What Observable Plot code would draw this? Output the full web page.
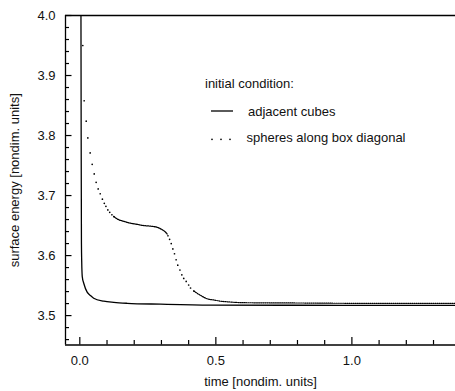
<!DOCTYPE html>
<html>
<head>
<meta charset="utf-8">
<script src="https://cdn.jsdelivr.net/npm/d3@7"></script>
<script src="https://cdn.jsdelivr.net/npm/@observablehq/plot@0.6"></script>
<style>
  html, body { margin: 0; padding: 0; background: #fff; }
  #wrap { position: relative; width: 455px; height: 391px; }
  #legend { position: absolute; left: 0; top: 0; pointer-events: none; }
  text { font-family: "Liberation Sans", Arial, sans-serif; }
</style>
</head>
<body>
<div id="wrap"></div>
<script>
// ---- data ----
// adjacent cubes (solid line)
const cubesT = [0.004, 0.005, 0.006, 0.007, 0.009, 0.015, 0.027, 0.040, 0.051, 0.088, 0.125, 0.174, 0.297, 0.480, 0.800, 1.100, 1.380];
const cubesE = [4.060, 3.800, 3.620, 3.590, 3.565, 3.553, 3.539, 3.533, 3.529, 3.524, 3.522, 3.5205, 3.519, 3.5175, 3.5172, 3.5171, 3.5171];

// spheres along box diagonal: individually visible dots
const sphereDotT = [0.011, 0.016, 0.0235, 0.0295, 0.038, 0.0455, 0.053, 0.060, 0.0675, 0.075, 0.083, 0.090, 0.096, 0.103, 0.110, 0.118, 0.125,
                    0.324, 0.330, 0.336, 0.342, 0.348, 0.354, 0.360, 0.368, 0.375, 0.382, 0.391, 0.400, 0.407, 0.419];
const sphereDotE = [3.950, 3.858, 3.824, 3.796, 3.771, 3.752, 3.736, 3.722, 3.711, 3.703, 3.694, 3.687, 3.682, 3.676, 3.672, 3.668, 3.665,
                    3.633, 3.627, 3.620, 3.611, 3.603, 3.593, 3.584, 3.576, 3.568, 3.562, 3.557, 3.551, 3.546, 3.541];
// spheres: densely dotted stretches
const sphereShoulderT = [0.125, 0.1375, 0.162, 0.186, 0.211, 0.235, 0.260, 0.285, 0.303, 0.315, 0.321];
const sphereShoulderE = [3.665, 3.661, 3.657, 3.654, 3.652, 3.650, 3.649, 3.647, 3.643, 3.639, 3.636];
const sphereTailT = [0.419, 0.432, 0.450, 0.468, 0.493, 0.517, 0.542, 0.600, 0.800, 1.000, 1.380];
const sphereTailE = [3.541, 3.537, 3.532, 3.528, 3.526, 3.524, 3.523, 3.5215, 3.521, 3.5205, 3.5205];

// ticks
const xMajorTicks = [0.0, 0.5, 1.0];
const xMinorTicks = [0.1, 0.2, 0.3, 0.4, 0.6, 0.7, 0.8, 0.9, 1.1, 1.2, 1.3];
const yMajorTicks = [3.5, 3.6, 3.7, 3.8, 3.9, 4.0];
const yMinorTicks = [3.46, 3.48, 3.52, 3.54, 3.56, 3.58, 3.62, 3.64, 3.66, 3.68, 3.72, 3.74, 3.76, 3.78, 3.82, 3.84, 3.86, 3.88, 3.92, 3.94, 3.96, 3.98];

const xDomain = [-0.0526, 1.3808];
const yDomain = [3.451, 4.0];

const legendTitle = "initial condition:";
const seriesNames = ["adjacent cubes", "spheres along box diagonal"];
const xLabel = "time [nondim. units]";
const yLabel = "surface energy [nondim. units]";

// ---- build tables ----
const zip = (T, E) => T.map((t, i) => ({t, e: E[i]}));
const cubes = zip(cubesT, cubesE);
const sphereDots = zip(sphereDotT, sphereDotE);
const sphereShoulder = zip(sphereShoulderT, sphereShoulderE);
const sphereTail = zip(sphereTailT, sphereTailE);

const W = 455, H = 391, mL = 65, mR = 0, mT = 15, mB = 46.5;
const frameW = W - mL - mR, frameH = H - mT - mB;
// convert a tick length in pixels into data units along each axis
const pxToX = px => px * (xDomain[1] - xDomain[0]) / frameW;
const pxToY = px => px * (yDomain[1] - yDomain[0]) / frameH;
const ink = "#000";
// inward tick marks as short rules starting at the frame edge
const xTick = (ticks, len) => Plot.ruleX(ticks.map(v => ({v})), {x: "v", y1: yDomain[0], y2: yDomain[0] + pxToY(len), stroke: ink, strokeWidth: 1.2});
const yTick = (ticks, len) => Plot.ruleY(ticks.map(v => ({v})), {y: "v", x1: xDomain[0], x2: xDomain[0] + pxToX(len), stroke: ink, strokeWidth: 1.2});

const chart = Plot.plot({
  width: W,
  height: H,
  marginLeft: mL,
  marginRight: mR,
  marginTop: mT,
  marginBottom: mB,
  x: {domain: xDomain},
  y: {domain: yDomain},
  style: {fontFamily: "'Liberation Sans', Arial, sans-serif", fontSize: "13px", color: "#111", background: "#fff"},
  marks: [
    // tick labels and axis titles
    Plot.axisY(yMajorTicks, {tickSize: 0, tickPadding: 10, tickFormat: d3.format(".1f"), label: yLabel, labelAnchor: "center", labelOffset: 56, labelArrow: "none"}),
    Plot.axisX(xMajorTicks, {tickSize: 0, tickPadding: 11, tickFormat: d3.format(".1f"), label: xLabel, labelAnchor: "center", labelOffset: 41, labelArrow: "none"}),
    // inward ticks
    yTick(yMajorTicks, 6.5),
    yTick(yMinorTicks, 4),
    xTick(xMajorTicks, 7.5),
    xTick(xMinorTicks, 4.5),
    // frame (left, top, bottom)
    Plot.ruleX([xDomain[0]], {stroke: ink, strokeWidth: 1.3}),
    Plot.ruleY([yDomain[0], yDomain[1]], {stroke: ink, strokeWidth: 1.3}),
    // adjacent cubes
    Plot.line(cubes, {x: "t", y: "e", stroke: ink, strokeWidth: 1.3, curve: "monotone-x", clip: true}),
    // spheres
    Plot.line(sphereShoulder, {x: "t", y: "e", stroke: ink, strokeWidth: 1.3, strokeDasharray: "1.2 1", curve: "monotone-x", clip: true}),
    Plot.line(sphereTail, {x: "t", y: "e", stroke: ink, strokeWidth: 1.2, strokeDasharray: "1 1.1", curve: "monotone-x", clip: true}),
    Plot.dot(sphereDots, {x: "t", y: "e", r: 0.85, fill: ink, stroke: null, clip: true})
  ]
});

const wrap = document.getElementById("wrap");
wrap.appendChild(chart);

// legend overlay
const svg = d3.select(wrap).append("svg")
  .attr("id", "legend").attr("width", W).attr("height", H)
  .style("font-family", "'Liberation Sans', Arial, sans-serif").style("font-size", "13px");
svg.append("text").attr("x", 205).attr("y", 87.5).attr("fill", "#111").text(legendTitle);
svg.append("line").attr("x1", 211).attr("x2", 233).attr("y1", 111).attr("y2", 111).attr("stroke", ink).attr("stroke-width", 1.3);
svg.append("text").attr("x", 248).attr("y", 116).attr("fill", "#111").text(seriesNames[0]);
[212, 221, 230].forEach(cx => svg.append("circle").attr("cx", cx).attr("cy", 139.3).attr("r", 0.85).attr("fill", ink));
svg.append("text").attr("x", 246.5).attr("y", 142).attr("fill", "#111").text(seriesNames[1]);
</script>
</body>
</html>
